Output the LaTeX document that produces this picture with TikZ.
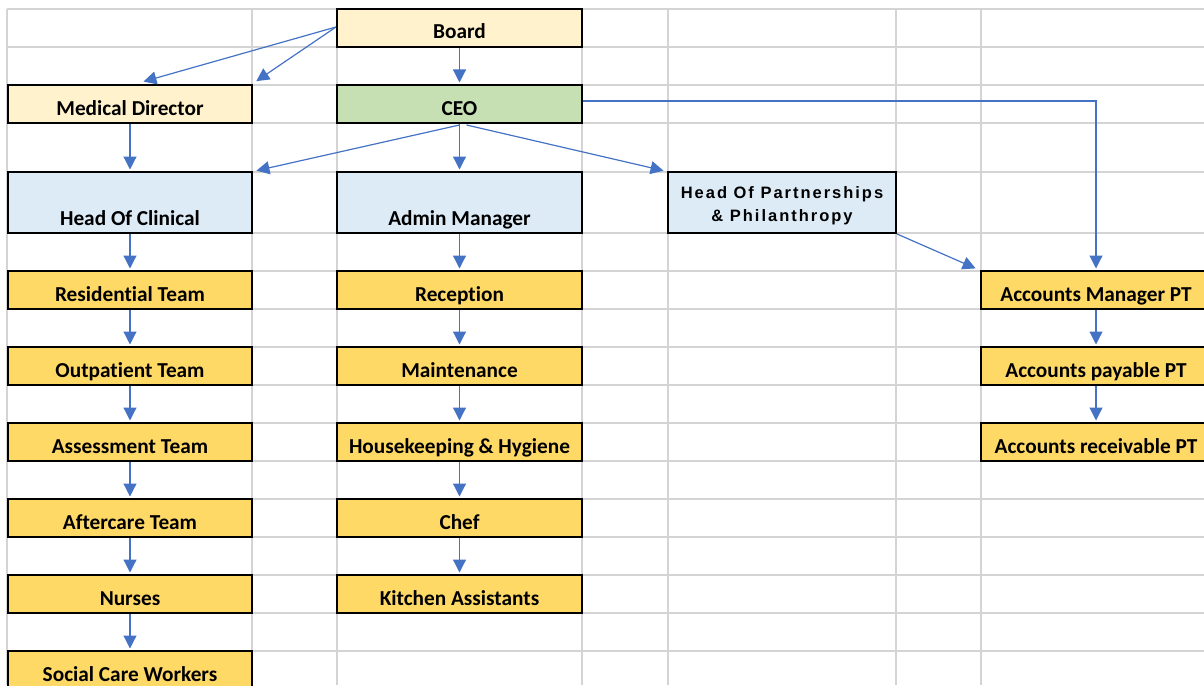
\documentclass[tikz,border=0pt]{standalone}
\usepackage{fontspec}
\setmainfont[Ligatures=NoCommon]{Carlito}
\newfontfamily\arialfont[LetterSpace=12]{Liberation Sans}
\usetikzlibrary{arrows.meta}
\definecolor{boardcream}{RGB}{255, 242, 204}
\definecolor{ceogreen}{RGB}{198, 224, 180}
\definecolor{headblue}{RGB}{221, 235, 247}
\definecolor{teamgold}{RGB}{255, 217, 102}
\definecolor{linkblue}{RGB}{68, 114, 196}
\definecolor{gridgrey}{RGB}{212, 212, 212}

\begin{document}
\begin{tikzpicture}[x=1pt, y=-1pt,
    cell/.style    ={draw=black, line width=2pt, inner xsep=0pt, inner ysep=0pt,
                     text height=30pt, text depth=8pt,
                     font=\bfseries\fontsize{21.3}{24}\selectfont},
    tallcell/.style={cell, text height=53pt},
    colone/.style  ={minimum width=244pt},
    coltwo/.style  ={minimum width=245pt},
    colacc/.style  ={minimum width=230pt},
    link/.style    ={draw=linkblue, line width=1.2pt, shorten >=1.5pt,
                     -{Triangle[length=13pt, width=13pt]}}]
            \useasboundingbox (0,0) rectangle (1204,685);
            \clip             (0,0) rectangle (1204,685);
            % sheet grid
            \foreach \gx in {7, 252, 337, 582, 668, 896, 981}
                \draw[gridgrey, line width=1.5pt] (\gx,9) -- (\gx,685);
            \foreach \gy in {9, 47, 85, 123, 172, 233, 271, 309, 347, 385, 423, 461, 499, 537, 575, 613, 651}
                \draw[gridgrey, line width=1.5pt] (7,\gy) -- (1204,\gy);
            % top of the chart
            \node[cell,     coltwo, fill=boardcream] (board) at (459.5, 28.0) {Board};
            \node[cell,     colone, fill=boardcream] (md)    at (130.0,104.0) {Medical Director};
            \node[cell,     coltwo, fill=ceogreen]   (ceo)   at (459.5,104.0) {CEO};
            \node[tallcell, colone, fill=headblue]   (hoc)   at (130.0,202.5) {Head Of Clinical};
            \node[tallcell, coltwo, fill=headblue]   (adm)   at (459.5,202.5) {Admin Manager};
            \node[cell, fill=headblue, minimum width=228pt, minimum height=61pt, align=center,
                  text height=49pt, text depth=12pt,
                  font=\arialfont\bfseries\fontsize{16.5}{23}\selectfont]
                                                     (hop)   at (782.0,202.5) {Head Of Partnerships\\\& Philanthropy};
            % clinical column
            \node[cell, colone, fill=teamgold] (res)  at (130.0,290.0) {Residential Team};
            \node[cell, colone, fill=teamgold] (outp) at (130.0,366.0) {Outpatient Team};
            \node[cell, colone, fill=teamgold] (ass)  at (130.0,442.0) {Assessment Team};
            \node[cell, colone, fill=teamgold] (aft)  at (130.0,518.0) {Aftercare Team};
            \node[cell, colone, fill=teamgold] (nur)  at (130.0,594.0) {Nurses};
            \node[cell, colone, fill=teamgold] (scw)  at (130.0,670.0) {Social Care Workers};
            % admin column
            \node[cell, coltwo, fill=teamgold] (rec)  at (459.5,290.0) {Reception};
            \node[cell, coltwo, fill=teamgold] (mnt)  at (459.5,366.0) {Maintenance};
            \node[cell, coltwo, fill=teamgold] (hkh)  at (459.5,442.0) {Housekeeping \& Hygiene};
            \node[cell, coltwo, fill=teamgold] (chef) at (459.5,518.0) {Chef};
            \node[cell, coltwo, fill=teamgold] (kit)  at (459.5,594.0) {Kitchen Assistants};
            % accounts column
            \node[cell, colacc, fill=teamgold] (amgr) at (1096.0,290.0) {Accounts Manager PT};
            \node[cell, colacc, fill=teamgold] (apay) at (1096.0,366.0) {Accounts payable PT};
            \node[cell, colacc, fill=teamgold] (arec) at (1096.0,442.0) {Accounts receivable PT};
            % connectors
            \draw[link] ([yshift=1pt]board.west) -- ([xshift=12pt, yshift=2pt]md.north);
            \draw[link] ([yshift=1pt]board.west) -- ([xshift=2pt, yshift=2pt]md.north east);
            \draw[link] (board) -- (ceo);
            \draw[link] (md)    -- (hoc);
            \draw[link] ([yshift=-1pt]ceo.south) -- ([xshift=2pt]hoc.north east);
            \draw[link] (ceo)   -- (adm);
            \draw[link] ([xshift=7pt, yshift=-1pt]ceo.south) -- ([xshift=-2pt]hop.north west);
            \draw[link] ([yshift=3pt]ceo.east) -| (amgr.north);
            \draw[link] (hop.south east) -- ([xshift=-3pt, yshift=1pt]amgr.north west);
            \foreach \up/\down in {hoc/res, res/outp, outp/ass, ass/aft, aft/nur, nur/scw,
                                   adm/rec, rec/mnt, mnt/hkh, hkh/chef, chef/kit,
                                   amgr/apay, apay/arec}
                \draw[link] (\up) -- (\down);
\end{tikzpicture}
\end{document}
